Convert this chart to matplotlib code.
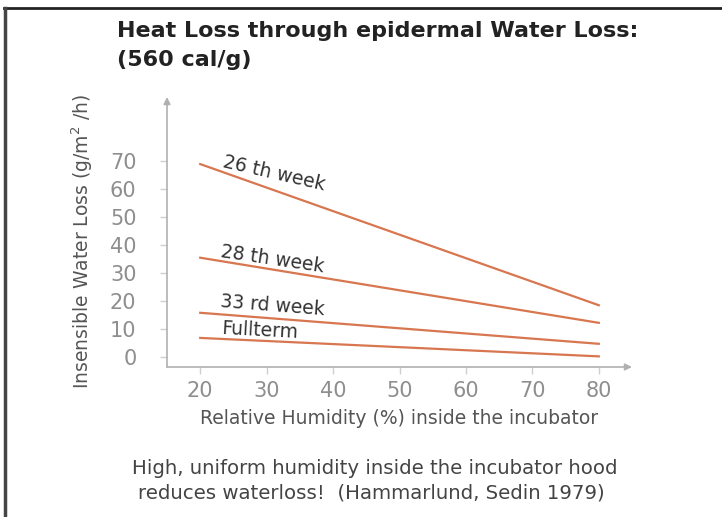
import matplotlib.pyplot as plt

# humidity (%) and insensible water loss (g/m2/h)
humidity = [20, 80]
loss_26 = [69, 18.5]
loss_28 = [35.5, 12.2]
loss_33 = [15.8, 4.7]
loss_full = [6.8, 0.2]

series = [
    ("26 th week", loss_26, 31.1, 65.6, -13),
    ("28 th week", loss_28, 30.8, 35.0, -8.5),
    ("33 rd week", loss_33, 30.9, 18.4, -4.5),
    ("Fullterm", loss_full, 29.0, 9.4, -3),
]

xticks = [20, 30, 40, 50, 60, 70, 80]
yticks = [0, 10, 20, 30, 40, 50, 60, 70]

plt.rcParams['font.family'] = ['DejaVu Sans']

fig = plt.figure(figsize=(7.22, 5.17), dpi=100)
ax = fig.add_axes([167/722, 1 - 367/517, (632 - 167)/722, (367 - 97)/517])

line_col = '#d8764f'
for name, vals, tx, ty, rot in series:
    ax.plot(humidity, vals, color=line_col, lw=1.6)
    ax.text(tx, ty, name, rotation=rot, rotation_mode='anchor',
            ha='center', va='center', fontsize=13.5, color='#333333')

ax.set_xlim(15, 85)
ax.set_ylim(-3.6, 93)
for s in ax.spines.values():
    s.set_visible(False)

axis_col = '#b0b0b0'
ax.annotate('', xy=(0, 1), xytext=(0, 0), xycoords='axes fraction',
            arrowprops=dict(arrowstyle='-|>', color=axis_col, lw=1.2,
                            mutation_scale=10, shrinkA=0, shrinkB=0))
ax.annotate('', xy=(1, 0), xytext=(0, 0), xycoords='axes fraction',
            arrowprops=dict(arrowstyle='-|>', color=axis_col, lw=1.2,
                            mutation_scale=10, shrinkA=0, shrinkB=0))

ax.set_xticks(xticks)
ax.set_yticks(yticks)
ax.tick_params(axis='both', colors='#d0d0d0', length=5, width=1,
               labelcolor='#8e8e8e', labelsize=15)
ax.tick_params(axis='y', pad=17)
ax.tick_params(axis='x', pad=5)

ax.set_xlabel('Relative Humidity (%) inside the incubator', fontsize=13.5,
              color='#555555', labelpad=6)
ax.set_ylabel('Insensible Water Loss (g/m$^2$ /h)', fontsize=13.5,
              color='#555555')
ax.yaxis.set_label_coords(-72/465, 0.465)

fig.text(117/722, 1 - 31/517, 'Heat Loss through epidermal Water Loss:',
         fontsize=16, fontweight='bold', color='#222222', va='center')
fig.text(117/722, 1 - 60/517, '(560 cal/g)',
         fontsize=16, fontweight='bold', color='#222222', va='center')

fig.text(375/722, 1 - 468/517, 'High, uniform humidity inside the incubator hood',
         fontsize=14.2, color='#444444', ha='center', va='center')
fig.text(371/722, 1 - 493/517, 'reduces waterloss!  (Hammarlund, Sedin 1979)',
         fontsize=14.2, color='#444444', ha='center', va='center')

# frame lines at top and left
fig.add_artist(plt.Line2D([4/722, 1], [1 - 8/517] * 2, color='#222222', lw=2))
fig.add_artist(plt.Line2D([5/722] * 2, [0, 1 - 8/517], color='#444444', lw=2.5))

fig.savefig('out.png', dpi=100)
